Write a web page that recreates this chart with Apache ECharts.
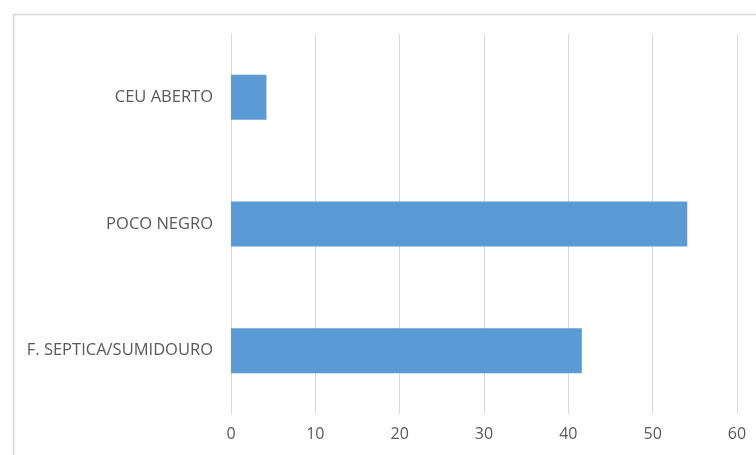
<!DOCTYPE html>
<html><head><meta charset="utf-8">
<script src="https://cdn.jsdelivr.net/npm/echarts@6/dist/echarts.min.js"></script>
<style>html,body{margin:0;padding:0;background:#fff}#c{width:756px;height:455px}</style>
</head><body><div id="c"></div>
<script>
const categories = ['F. SEPTICA/SUMIDOURO', 'POCO NEGRO', 'CEU ABERTO'];
const values = [41.6, 54.1, 4.2];
const xTicks = [0, 10, 20, 30, 40, 50, 60];

const chart = echarts.init(document.getElementById('c'), null, {renderer: 'canvas'});
chart.setOption({
  animation: false,
  backgroundColor: '#ffffff',
  graphic: [{type: 'rect', left: 11, top: 12, shape: {width: 800, height: 500}, style: {fill: 'none', stroke: '#d9d9d9', lineWidth: 1.5}, silent: true}],
  grid: {left: 231, right: 19, top: 34, bottom: 41, containLabel: false},
  xAxis: {
    type: 'value', min: xTicks[0], max: xTicks[xTicks.length - 1], interval: 10,
    axisLine: {show: false}, axisTick: {show: false},
    splitLine: {show: true, lineStyle: {color: '#d9d9d9', width: 1}},
    axisLabel: {color: '#595959', fontSize: 16, fontFamily: 'Open Sans', margin: 12}
  },
  yAxis: {
    type: 'category', data: categories,
    axisLine: {show: true, lineStyle: {color: '#d9d9d9'}}, axisTick: {show: false},
    axisLabel: {color: '#595959', fontSize: 16.5, fontFamily: 'Open Sans', margin: 18}
  },
  series: [{
    type: 'bar', data: values, barCategoryGap: '64.5%',
    itemStyle: {color: '#5b9bd5'}
  }]
});
</script></body></html>
